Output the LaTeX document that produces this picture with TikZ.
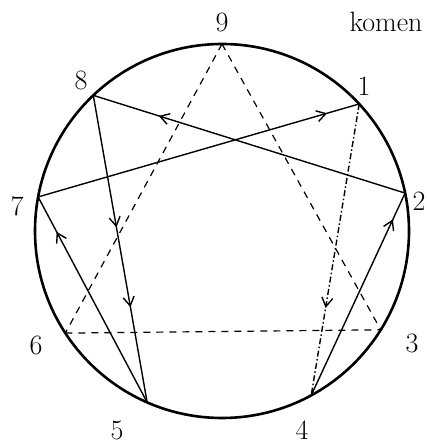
\documentclass[tikz,border=0pt]{standalone}
\usetikzlibrary{arrows.meta,decorations.markings,calc}

\begin{document}
\begin{tikzpicture}[
    x=1pt, y=1pt,
    ring/.style={line width=2.6pt},
    chord/.style={line width=1.4pt},
    hidden/.style={line width=1.2pt, dash pattern=on 7pt off 6pt},
    dotdash/.style={dash pattern=on 6pt off 2.5pt on 1.5pt off 2.5pt},
    midarrow/.style={postaction={decorate, decoration={markings,
        mark=at position #1 with {\arrow{Straight Barb[length=9pt,width=11pt,line width=1.4pt]}}}}},
    num/.style={font=\fontsize{28}{32}\selectfont, inner sep=0pt},
    >=Stealth
]
\useasboundingbox (0,0) rectangle (426,447);

% ---- circle and the nine points on it ----
\coordinate (c) at (222,216);
\draw[ring] (c) circle[radius=187];

\coordinate (p9) at ($(c)+(90:187)$);
\coordinate (p8) at ($(c)+(133.5:187)$);
\coordinate (p1) at ($(c)+(42.8:187)$);
\coordinate (p7) at ($(c)+(169.5:187)$);
\coordinate (p2) at ($(c)+(11.7:187)$);
\coordinate (p6) at ($(c)+(213.1:187)$);
\coordinate (p3) at ($(c)+(328.1:187)$);
\coordinate (p5) at ($(c)+(246.4:187)$);
\coordinate (p4) at ($(c)+(298.5:187)$);

% ---- labels ----
\node[num] (n9) at (222,425) {9};
\node[num, anchor=base] (kom) at (386,415) {komen};
\node[num] (n8) at (81,367) {8};
\node[num] (n1) at (364,361) {1};
\node[num] (n7) at (17,241) {7};
\node[num] (n2) at (419,246) {2};
\node[num] (n6) at (36,102) {6};
\node[num] (n3) at (412,104) {3};
\node[num] (n5) at (117,17) {5};
\node[num] (n4) at (302,17) {4};

% ---- hexad, with arrows ----
\draw[chord, midarrow=0.79] (p2) -- (p8);
\draw[chord, midarrow=0.9] (p7) -- (p1);
\draw[chord, midarrow=0.43, midarrow=0.69] (p8) -- (p5);
\draw[chord, midarrow=0.83] (p5) -- (p7);
\draw[chord, dotdash, midarrow=0.7] (p1) -- (p4);
\draw[chord, midarrow=0.87] (p4) -- (p2);

% ---- triangle 9-3-6, dashed ----
\draw[hidden] (p9) -- (p6);
\draw[hidden] (p9) -- (p3);
\draw[hidden] (p6) -- (p3);

\end{tikzpicture}
\end{document}
